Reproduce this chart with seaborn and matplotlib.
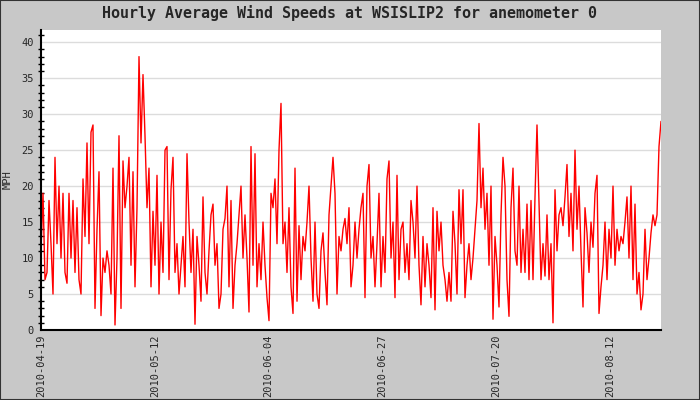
import matplotlib
matplotlib.use("Agg")
import matplotlib.pyplot as plt
import matplotlib.dates as mdates
from matplotlib.ticker import MultipleLocator
from matplotlib.patches import Rectangle
import numpy as np
import pandas as pd
import seaborn as sns

# ---- data (MPH, ~every 10 hours) ----
speeds_a = [11, 19, 7, 8, 18, 12, 5, 24, 12, 20, 10, 19, 8, 6.5, 19, 10, 18, 8, 17, 7,
            5, 21, 13, 26, 12, 27.5, 28.5, 3, 14, 22, 2, 10]
speeds_b = [8, 11, 9, 5, 22.5, 0.7, 10, 27, 3, 23.5, 17, 20, 24, 9, 22, 6, 17, 38, 26, 35.5,
            27, 17, 22.5, 6, 16.5, 9, 21.5, 5, 15, 8, 25]
speeds_c = [25.5, 7, 19.5, 24, 8, 12, 5, 9, 13, 6, 24.5, 15, 8, 14, 0.8, 13, 9, 4, 18.5, 8,
            5, 11, 16, 17.5, 9, 12, 3, 5, 14, 15.5, 20]
speeds_d = [6, 18, 3, 9, 12, 16, 20, 10, 16, 10, 2.5, 25.5, 9, 24.5, 6, 12, 7, 15, 9, 4.5,
            1.3, 19, 17, 21, 12, 25, 31.5, 12, 15, 8, 17]
speeds_e = [6, 2.3, 22.5, 4, 14.5, 7, 13, 11, 15, 20, 10, 4, 15, 5, 3, 11, 13.5, 8, 3.5, 16,
            20, 24, 19, 5, 13, 11, 14, 15.5, 12, 17, 6]
speeds_f = [9, 15, 10, 14, 17, 19, 4.5, 20, 23, 10, 13, 6, 12, 19, 6, 13, 8, 21, 23.5, 10,
            15, 4.5, 21.5, 7, 14, 15, 8, 12, 7, 18, 15]
speeds_g = [10, 20, 9, 3.5, 13, 6, 12, 9, 4.5, 17, 2.8, 16.5, 11, 15, 9, 7, 4, 8, 4, 16.5,
            12, 5, 19.5, 12, 19.5, 4.5, 9, 12, 7, 10, 14]
speeds_h = [18, 28.7, 17, 22.5, 14, 19, 9, 20, 1.5, 13, 9, 3.2, 16, 24, 20, 7, 1.9, 17, 22.5, 11,
            9, 20, 8, 14, 8, 17.5, 7, 18, 7, 18.5, 28.5]
speeds_i = [18, 7, 12, 7.5, 16, 7, 12, 1, 19.5, 11, 16, 17, 14.5, 18.5, 23, 13, 19, 11, 25, 14,
            20, 11, 3.2, 17, 13.5, 8, 15, 11.5, 19, 21.5, 2.3]
speeds_j = [6, 9, 15, 7, 14, 10, 20, 9, 14, 11, 13, 12, 15, 18.5, 10, 20, 7, 17.5, 5, 8,
            2.8, 5, 14, 7, 10, 13.5, 16, 14.5, 16, 25.5, 29]

start_time = "2010-04-19 00:00"
end_time = "2010-08-22 06:00"
tick_dates = ["2010-04-19", "2010-05-12", "2010-06-04", "2010-06-27", "2010-07-20", "2010-08-12"]
y_ticks = [0, 5, 10, 15, 20, 25, 30, 35, 40]

speeds = (speeds_a + speeds_b + speeds_c + speeds_d + speeds_e +
          speeds_f + speeds_g + speeds_h + speeds_i + speeds_j)
times = pd.date_range(start_time, end_time, periods=len(speeds))
df = pd.DataFrame({"time": times, "mph": speeds})

sns.set_theme(style="white")
plt.rcParams["font.family"] = ["DejaVu Sans Mono", "DejaVu Sans"]

bg = "#c8c8c8"
fig = plt.figure(figsize=(7, 4), dpi=100, facecolor=bg)
ax = fig.add_axes([41 / 700, 1 - 330 / 400, 620 / 700, 300 / 400])
ax.set_facecolor("white")

sns.lineplot(data=df, x="time", y="mph", ax=ax, color="#ff0000", linewidth=1.0,
             estimator=None, legend=False)

ax.set_xlim(pd.Timestamp(start_time), pd.Timestamp(end_time))
ax.set_ylim(0, 41.7)

ax.set_yticks(y_ticks)
ax.set_yticklabels([str(v) for v in y_ticks], fontsize=7.5)
ax.yaxis.set_minor_locator(MultipleLocator(1))
ax.grid(axis="y", which="major", color="#dcdcdc", linewidth=1.0)
ax.grid(axis="x", visible=False)
ax.set_axisbelow(True)

ax.set_xticks([pd.Timestamp(d) for d in tick_dates])
ax.xaxis.set_major_formatter(mdates.DateFormatter("%Y-%m-%d"))
plt.setp(ax.get_xticklabels(), rotation=90, fontsize=7.5)

ax.tick_params(axis="x", which="major", direction="in", length=4.5, width=1.2,
               color="black", pad=3)
ax.tick_params(axis="y", which="major", direction="inout", length=6, width=1.0,
               color="black", pad=2)
ax.tick_params(axis="y", which="minor", direction="inout", length=4, width=1.0,
               color="black", left=True)

for side in ["top", "right"]:
    ax.spines[side].set_visible(False)
for side in ["left", "bottom"]:
    ax.spines[side].set_color("black")
    ax.spines[side].set_linewidth(1.5)

ax.set_xlabel("")
ax.set_ylabel("MPH", fontsize=7.5, labelpad=8)
ax.yaxis.set_label_coords(-0.045, 0.5)

fig.suptitle("Hourly Average Wind Speeds at WSISLIP2 for anemometer 0",
             fontsize=10.8, fontweight="bold", y=1 - 13 / 400, va="center",
             family=["DejaVu Sans Mono", "DejaVu Sans"])

fig.patches.append(Rectangle((0, 0), 1, 1, transform=fig.transFigure, fill=False,
                             edgecolor="#333333", linewidth=1.5))

fig.savefig("out.png", dpi=100, facecolor=bg)
